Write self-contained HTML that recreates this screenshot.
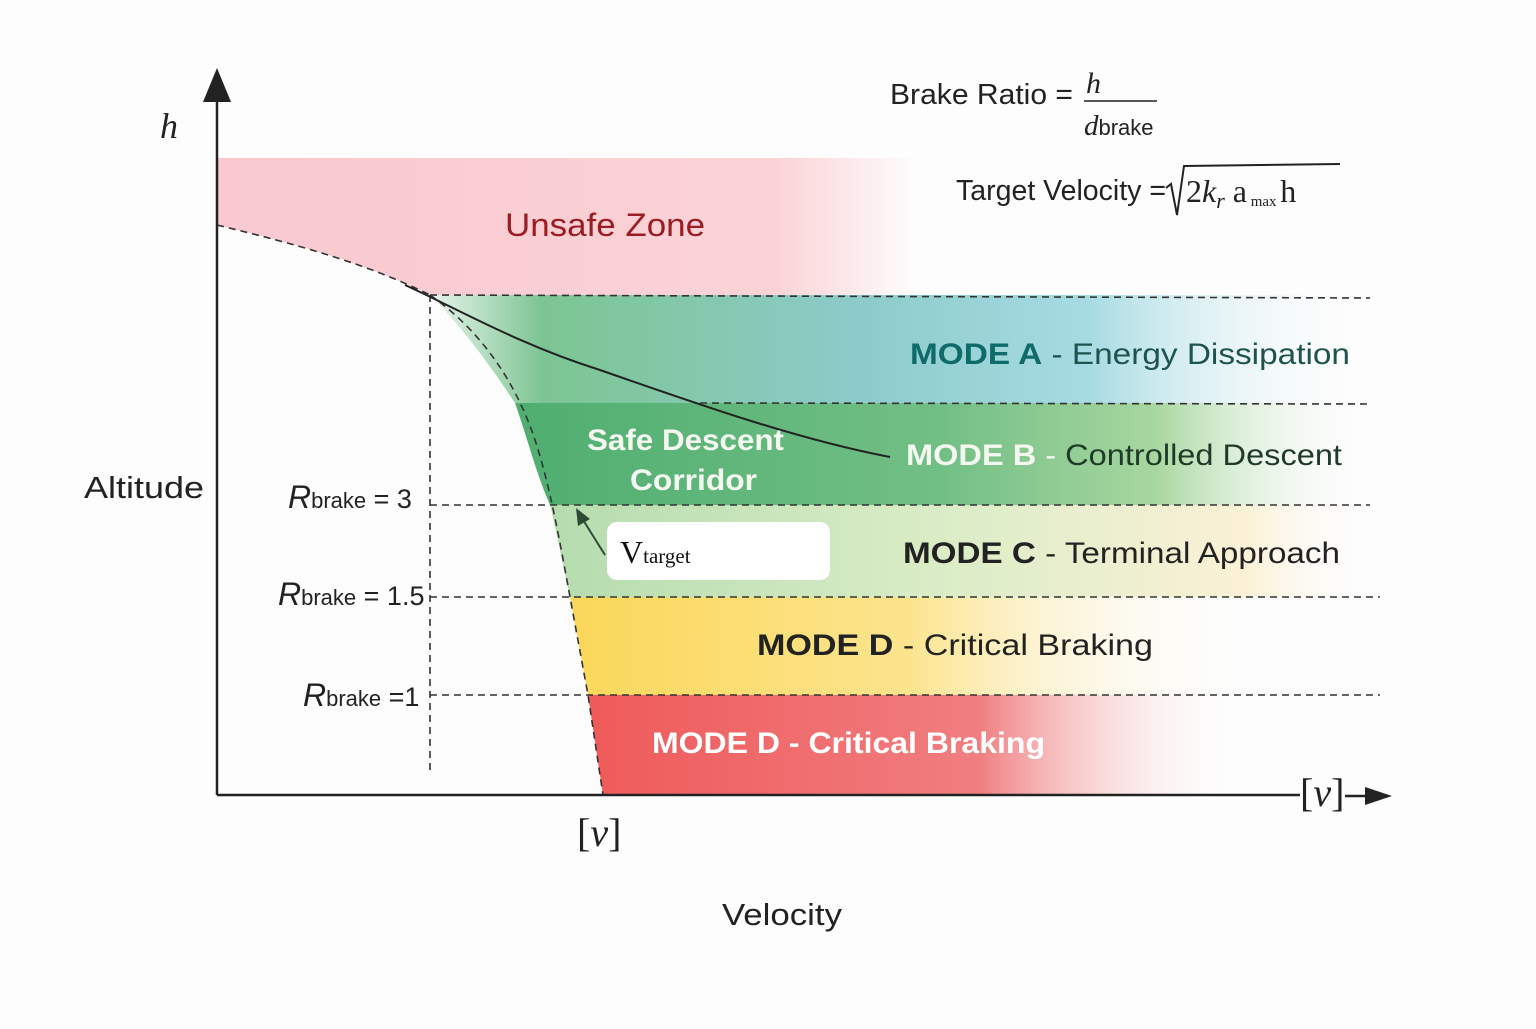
<!DOCTYPE html>
<html><head><meta charset="utf-8"><style>
body{margin:0;background:#fdfdfd;}
svg text{font-family:"Liberation Sans",sans-serif;}
</style></head><body>
<svg width="1536" height="1024" viewBox="0 0 1536 1024" xmlns="http://www.w3.org/2000/svg">
<defs>
<linearGradient id="gU" x1="0" x2="1"><stop offset="0" stop-color="#f9c9cf"/><stop offset="0.8" stop-color="#fbd3d7"/><stop offset="1" stop-color="#fdfdfd"/></linearGradient>
<linearGradient id="gA" x1="0" x2="1"><stop offset="0" stop-color="#e8f4ec"/><stop offset="0.12" stop-color="#7cc592"/><stop offset="0.45" stop-color="#8ccbc9"/><stop offset="0.7" stop-color="#a6dbe2"/><stop offset="1" stop-color="#fdfdfd" stop-opacity="0"/></linearGradient>
<linearGradient id="gB" x1="0" x2="1"><stop offset="0" stop-color="#4fae70"/><stop offset="0.5" stop-color="#72bf85"/><stop offset="0.75" stop-color="#a8d7a0"/><stop offset="1" stop-color="#fdfdfd" stop-opacity="0"/></linearGradient>
<linearGradient id="gC" x1="0" x2="1"><stop offset="0" stop-color="#b5dcae"/><stop offset="0.5" stop-color="#dcedc8"/><stop offset="0.85" stop-color="#fbf1d6"/><stop offset="1" stop-color="#fdfdfd" stop-opacity="0"/></linearGradient>
<linearGradient id="gD" x1="0" x2="1"><stop offset="0" stop-color="#fbd85a"/><stop offset="0.5" stop-color="#fce48e"/><stop offset="1" stop-color="#fdfdfd" stop-opacity="0"/></linearGradient>
<linearGradient id="gR" x1="0" x2="1"><stop offset="0" stop-color="#ef5a5a"/><stop offset="0.6" stop-color="#f07e80"/><stop offset="1" stop-color="#fdfdfd" stop-opacity="0"/></linearGradient>
</defs>
<rect x="217" y="158" width="700" height="137" fill="url(#gU)"/>
<path d="M217,225 C300,245 370,265 430,295 L217,295 Z" fill="#fdfdfd"/>
<path d="M430,295 L1370,295 L1370,403 L515,403 C480,350 455,320 430,295Z" fill="url(#gA)"/>
<path d="M515,403 L1370,403 L1370,505 L550,505 C535,470 528,440 515,403Z" fill="url(#gB)"/>
<path d="M550,505 L1370,505 L1370,597 L570,597 C562,560 556,530 550,505Z" fill="url(#gC)"/>
<path d="M570,597 L1250,597 L1250,695 L588,695Z" fill="url(#gD)"/>
<path d="M588,695 L1240,695 L1240,795 L603,795Z" fill="url(#gR)"/>
<g stroke="#333" stroke-width="1.6" stroke-dasharray="7,5" fill="none">
<path d="M217,225 C300,245 370,265 430,295"/>
<line x1="430" y1="295" x2="1370" y2="298"/>
<line x1="700" y1="403" x2="1370" y2="404"/>
<line x1="430" y1="505" x2="1370" y2="505"/>
<line x1="430" y1="597" x2="1380" y2="597"/>
<line x1="430" y1="695" x2="1380" y2="695"/>
<line x1="430" y1="295" x2="430" y2="775"/>
<path d="M430,295 C480,330 515,380 535,440 C548,480 556,520 570,597 L588,695 L603,795"/>
</g>
<path d="M405,285 C460,310 520,345 600,370 C700,405 800,440 890,457" stroke="#222" stroke-width="2" fill="none"/>
<line x1="217" y1="95" x2="217" y2="795" stroke="#222" stroke-width="2.5"/>
<polygon points="217,68 203,102 231,102" fill="#222"/>
<line x1="217" y1="795" x2="1300" y2="795" stroke="#222" stroke-width="2.5"/>
<line x1="1345" y1="796" x2="1372" y2="796" stroke="#222" stroke-width="2.5"/>
<polygon points="1392,796 1365,787 1365,805" fill="#222"/>
<rect x="607" y="522" width="223" height="58" rx="10" fill="#fff"/>
<line x1="605" y1="555" x2="580" y2="515" stroke="#2d4a33" stroke-width="2"/>
<polygon points="576,508 578,526 590,519" fill="#2d4a33"/>
<text x="620" y="563" font-size="32" fill="#111" style="font-family:'Liberation Serif',serif">V<tspan font-size="21">target</tspan></text>
<text x="160" y="138" font-size="36" font-style="italic" fill="#222" style="font-family:'Liberation Serif',serif">h</text>
<text x="84" y="498" font-size="31" fill="#222" textLength="120" lengthAdjust="spacingAndGlyphs">Altitude</text>
<text x="722" y="925" font-size="31" fill="#222" textLength="120" lengthAdjust="spacingAndGlyphs">Velocity</text>
<text x="577" y="846" font-size="40" fill="#222" style="font-family:'Liberation Serif',serif">[<tspan font-style="italic">v</tspan>]</text>
<text x="1300" y="806" font-size="40" fill="#222" style="font-family:'Liberation Serif',serif">[<tspan font-style="italic">v</tspan>]</text>
<text x="505" y="236" font-size="32" fill="#9b1c22" textLength="200" lengthAdjust="spacingAndGlyphs">Unsafe Zone</text>
<text x="910" y="364" font-size="30" fill="#1e5450" textLength="440" lengthAdjust="spacingAndGlyphs"><tspan font-weight="bold" fill="#0e6b6a">MODE A</tspan> - Energy Dissipation</text>
<text x="906" y="465" font-size="30" fill="#1f3a28" textLength="436" lengthAdjust="spacingAndGlyphs"><tspan font-weight="bold" fill="#f4f8f0">MODE B</tspan><tspan fill="#f4f8f0"> - </tspan>Controlled Descent</text>
<text x="587" y="450" font-size="30" fill="#f4f8f0" font-weight="bold" textLength="197" lengthAdjust="spacingAndGlyphs">Safe Descent</text>
<text x="630" y="490" font-size="30" fill="#f4f8f0" font-weight="bold" textLength="127" lengthAdjust="spacingAndGlyphs">Corridor</text>
<text x="903" y="563" font-size="30" fill="#222" textLength="437" lengthAdjust="spacingAndGlyphs"><tspan font-weight="bold">MODE C</tspan> - Terminal Approach</text>
<text x="757" y="655" font-size="30" fill="#222" textLength="396" lengthAdjust="spacingAndGlyphs"><tspan font-weight="bold">MODE D</tspan> - Critical Braking</text>
<text x="652" y="753" font-size="30" fill="#fff" font-weight="bold" textLength="393" lengthAdjust="spacingAndGlyphs">MODE D - Critical Braking</text>
<g fill="#222" font-size="27">
<text x="288" y="508"><tspan font-style="italic" font-size="32">R</tspan><tspan font-size="22">brake</tspan> = 3</text>
<text x="278" y="605"><tspan font-style="italic" font-size="32">R</tspan><tspan font-size="22">brake</tspan> = 1.5</text>
<text x="303" y="706"><tspan font-style="italic" font-size="32">R</tspan><tspan font-size="22">brake</tspan> =1</text>
</g>
<text x="890" y="104" font-size="29" fill="#222" textLength="183" lengthAdjust="spacingAndGlyphs">Brake Ratio =</text>
<text x="1086" y="93" font-size="30" font-style="italic" fill="#222" style="font-family:'Liberation Serif',serif">h</text>
<line x1="1084" y1="101" x2="1157" y2="101" stroke="#222" stroke-width="1.5"/>
<text x="1084" y="135" font-size="29" fill="#222"><tspan font-style="italic" style="font-family:'Liberation Serif',serif">d</tspan><tspan font-size="22">brake</tspan></text>
<text x="956" y="200" font-size="29" fill="#222" textLength="210" lengthAdjust="spacingAndGlyphs">Target Velocity =</text>
<path d="M1166,188 L1171,184 L1177,215 L1184,166 L1340,164" stroke="#222" stroke-width="2" fill="none"/>
<text x="1186" y="202" font-size="32" fill="#222" style="font-family:'Liberation Serif',serif">2<tspan font-style="italic">k<tspan font-size="22" dy="6">r</tspan></tspan><tspan dy="-6"> a</tspan><tspan font-size="15" dy="4"> max </tspan><tspan dy="-4">h</tspan></text>
</svg>
</body></html>
